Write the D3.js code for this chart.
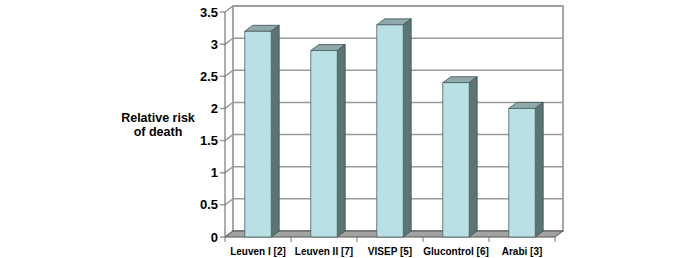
<!DOCTYPE html>
<html>
<head>
<meta charset="utf-8">
<script src="https://cdn.jsdelivr.net/npm/d3@7"></script>
<style>
  body { margin: 0; background: #fff; }
  text { font-family: "Liberation Sans", Arial, sans-serif; font-weight: bold; fill: #000; }
</style>
</head>
<body>
<svg width="685" height="258"></svg>
<script>
const studies = ["Leuven I [2]", "Leuven II [7]", "VISEP [5]", "Glucontrol [6]", "Arabi [3]"]
const riskValues = [3.2, 2.9, 3.3, 2.4, 2.0]
const yTicks = [0, 0.5, 1, 1.5, 2, 2.5, 3, 3.5]
const yTitle = ["Relative risk", "of death"]

const svg = d3.select("svg")
const dx = 8, dy = -6   // depth offset of the 3d box

const x = d3.scaleBand().domain(studies).range([225, 555])
const y = d3.scaleLinear().domain([0, 3.5]).range([237, 12])
const x0 = x.range()[0], x1 = x.range()[1]

// back wall
svg.append("rect")
  .attr("x", x0 + dx).attr("y", y(3.5) + dy)
  .attr("width", x1 - x0).attr("height", y(0) - y(3.5))
  .attr("fill", "#fff").attr("stroke", "#8a8a8a").attr("stroke-width", 1.5)

// gridlines on back wall + side wall
const grid = svg.append("g").attr("stroke", "#9a9a9a").attr("stroke-width", 1.5).attr("fill", "none")
yTicks.forEach(t => {
  grid.append("path").attr("d", `M${x0 - 5},${y(t)} L${x0},${y(t)} L${x0 + dx},${y(t) + dy} L${x1 + dx},${y(t) + dy}`)
})

// floor
svg.append("path")
  .attr("d", `M${x0},${y(0)} L${x1},${y(0)} L${x1 + dx},${y(0) + dy} L${x0 + dx},${y(0) + dy} Z`)
  .attr("fill", "#a3a3a3").attr("stroke", "#555").attr("stroke-width", 1)

// front axis line
svg.append("line")
  .attr("x1", x0).attr("x2", x0).attr("y1", y(0)).attr("y2", y(3.5))
  .attr("stroke", "#777").attr("stroke-width", 1.2)

// x tick marks
const xt = studies.map(s => x(s)).concat([x1])
svg.append("g").selectAll("line").data(xt).enter().append("line")
  .attr("x1", d => d).attr("x2", d => d)
  .attr("y1", y(0)).attr("y2", y(0) + 5)
  .attr("stroke", "#777").attr("stroke-width", 1)

// bars
const bw = x.bandwidth() * 0.4
const bars = svg.append("g").selectAll("g")
  .data(studies.map((s, i) => ({ s, v: riskValues[i] })))
  .enter().append("g")

bars.each(function (d) {
  const g = d3.select(this)
  const bx = x(d.s) + (x.bandwidth() - bw) / 2
  const top = y(d.v), bot = y(0)
  g.append("path")   // top
    .attr("d", `M${bx},${top} L${bx + bw},${top} L${bx + bw + dx},${top + dy} L${bx + dx},${top + dy} Z`)
    .attr("fill", "#8fa9aa").attr("stroke", "#3e5050").attr("stroke-width", 0.8)
  g.append("path")   // side
    .attr("d", `M${bx + bw},${top} L${bx + bw + dx},${top + dy} L${bx + bw + dx},${bot + dy} L${bx + bw},${bot} Z`)
    .attr("fill", "#5b7474").attr("stroke", "#3e5050").attr("stroke-width", 0.8)
  g.append("rect")   // front
    .attr("x", bx).attr("y", top).attr("width", bw).attr("height", bot - top)
    .attr("fill", "#b9e0e4").attr("stroke", "#4a6060").attr("stroke-width", 0.8)
})

// y labels
svg.append("g").selectAll("text").data(yTicks).enter().append("text")
  .attr("x", x0 - 7).attr("y", d => y(d) + 4.5)
  .attr("text-anchor", "end").attr("font-size", 13)
  .text(d => d3.format("~g")(d))

// x labels
svg.append("g").selectAll("text").data(studies).enter().append("text")
  .attr("x", d => x(d) + x.bandwidth() / 2).attr("y", 255)
  .attr("text-anchor", "middle").attr("font-size", 10)
  .text(d => d)

// y title
svg.append("text")
  .attr("x", 158).attr("y", 122)
  .attr("text-anchor", "middle").attr("font-size", 12.5)
  .selectAll("tspan").data(yTitle).enter().append("tspan")
  .attr("x", 158).attr("dy", (d, i) => i ? 14 : 0)
  .text(d => d)
</script>
</body>
</html>
